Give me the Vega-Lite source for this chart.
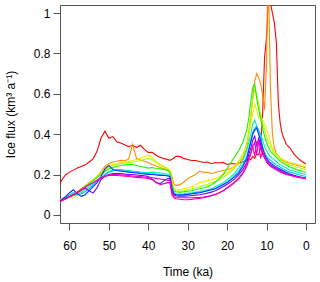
{
  "$schema": "https://vega.github.io/schema/vega-lite/v6.json",
  "width": 255,
  "height": 218,
  "autosize": "none",
  "padding": {"left": 60, "top": 5, "right": 5, "bottom": 59},
  "background": "white",
  "config": {
    "view": {"stroke": "#555", "strokeWidth": 1},
    "axis": {
      "labelFont": "Liberation Sans", "titleFont": "Liberation Sans",
      "labelFontSize": 12, "titleFontSize": 12,
      "labelColor": "#000", "titleColor": "#000", "titleFontWeight": "normal",
      "tickColor": "#555", "tickSize": 7, "domain": false, "grid": false,
      "labelFlush": false, "labelOverlap": false
    }
  },
  "data": {"values": [
    {"t":62.4,"r":0.155,"o":0.072,"y":0.075,"l":0.07,"g":0.07,"c":0.068,"a":0.07,"b":0.07,"p":0.068,"m":0.065,"k":0.065},
    {"t":62,"r":0.172,"o":0.076,"y":0.078,"l":0.074,"g":0.074,"c":0.072,"a":0.074,"b":0.075,"p":0.072,"m":0.07,"k":0.07},
    {"t":61,"r":0.198,"o":0.085,"y":0.082,"l":0.085,"g":0.085,"c":0.083,"a":0.088,"b":0.09,"p":0.08,"m":0.08,"k":0.08},
    {"t":60,"r":0.212,"o":0.093,"y":0.086,"l":0.095,"g":0.093,"c":0.09,"a":0.1,"b":0.11,"p":0.09,"m":0.09,"k":0.09},
    {"t":59,"r":0.222,"o":0.102,"y":0.083,"l":0.105,"g":0.1,"c":0.095,"a":0.11,"b":0.125,"p":0.1,"m":0.1,"k":0.1},
    {"t":58,"r":0.232,"o":0.115,"y":0.098,"l":0.115,"g":0.11,"c":0.1,"a":0.1,"b":0.105,"p":0.11,"m":0.112,"k":0.112},
    {"t":57,"r":0.24,"o":0.13,"y":0.118,"l":0.13,"g":0.125,"c":0.11,"a":0.105,"b":0.092,"p":0.122,"m":0.125,"k":0.125},
    {"t":56,"r":0.248,"o":0.145,"y":0.138,"l":0.145,"g":0.14,"c":0.125,"a":0.115,"b":0.1,"p":0.133,"m":0.137,"k":0.137},
    {"t":55,"r":0.262,"o":0.16,"y":0.155,"l":0.16,"g":0.155,"c":0.14,"a":0.13,"b":0.12,"p":0.12,"m":0.15,"k":0.15},
    {"t":54,"r":0.278,"o":0.175,"y":0.17,"l":0.175,"g":0.17,"c":0.155,"a":0.15,"b":0.14,"p":0.108,"m":0.16,"k":0.16},
    {"t":53,"r":0.315,"o":0.19,"y":0.19,"l":0.19,"g":0.185,"c":0.17,"a":0.165,"b":0.16,"p":0.135,"m":0.172,"k":0.172},
    {"t":52,"r":0.38,"o":0.215,"y":0.21,"l":0.205,"g":0.2,"c":0.185,"a":0.18,"b":0.19,"p":0.175,"m":0.183,"k":0.182},
    {"t":51,"r":0.415,"o":0.24,"y":0.23,"l":0.22,"g":0.215,"c":0.2,"a":0.2,"b":0.228,"p":0.19,"m":0.193,"k":0.19},
    {"t":50,"r":0.38,"o":0.255,"y":0.245,"l":0.235,"g":0.228,"c":0.215,"a":0.212,"b":0.245,"p":0.2,"m":0.2,"k":0.195},
    {"t":49,"r":0.388,"o":0.262,"y":0.25,"l":0.245,"g":0.235,"c":0.222,"a":0.218,"b":0.225,"p":0.205,"m":0.2,"k":0.196},
    {"t":48,"r":0.362,"o":0.266,"y":0.255,"l":0.25,"g":0.24,"c":0.225,"a":0.22,"b":0.22,"p":0.205,"m":0.2,"k":0.195},
    {"t":47,"r":0.356,"o":0.27,"y":0.258,"l":0.255,"g":0.245,"c":0.225,"a":0.218,"b":0.218,"p":0.205,"m":0.199,"k":0.194},
    {"t":46,"r":0.348,"o":0.268,"y":0.262,"l":0.258,"g":0.248,"c":0.222,"a":0.216,"b":0.215,"p":0.203,"m":0.197,"k":0.192},
    {"t":45,"r":0.338,"o":0.276,"y":0.265,"l":0.26,"g":0.25,"c":0.22,"a":0.214,"b":0.212,"p":0.2,"m":0.195,"k":0.19},
    {"t":44,"r":0.346,"o":0.35,"y":0.27,"l":0.262,"g":0.25,"c":0.218,"a":0.212,"b":0.21,"p":0.2,"m":0.193,"k":0.188},
    {"t":43,"r":0.334,"o":0.28,"y":0.275,"l":0.265,"g":0.245,"c":0.215,"a":0.21,"b":0.208,"p":0.198,"m":0.191,"k":0.186},
    {"t":42,"r":0.345,"o":0.272,"y":0.28,"l":0.27,"g":0.24,"c":0.212,"a":0.208,"b":0.205,"p":0.196,"m":0.19,"k":0.185},
    {"t":41,"r":0.325,"o":0.266,"y":0.29,"l":0.275,"g":0.236,"c":0.21,"a":0.206,"b":0.203,"p":0.194,"m":0.188,"k":0.183},
    {"t":40,"r":0.31,"o":0.26,"y":0.296,"l":0.28,"g":0.232,"c":0.21,"a":0.205,"b":0.2,"p":0.19,"m":0.186,"k":0.18},
    {"t":39,"r":0.31,"o":0.25,"y":0.285,"l":0.275,"g":0.235,"c":0.212,"a":0.204,"b":0.2,"p":0.178,"m":0.184,"k":0.175},
    {"t":38,"r":0.296,"o":0.242,"y":0.265,"l":0.26,"g":0.23,"c":0.21,"a":0.202,"b":0.198,"p":0.16,"m":0.181,"k":0.162},
    {"t":37,"r":0.285,"o":0.235,"y":0.25,"l":0.245,"g":0.228,"c":0.208,"a":0.2,"b":0.196,"p":0.155,"m":0.178,"k":0.15},
    {"t":36,"r":0.28,"o":0.228,"y":0.24,"l":0.235,"g":0.225,"c":0.205,"a":0.198,"b":0.195,"p":0.17,"m":0.175,"k":0.155},
    {"t":35,"r":0.274,"o":0.224,"y":0.23,"l":0.225,"g":0.22,"c":0.2,"a":0.195,"b":0.193,"p":0.18,"m":0.172,"k":0.16},
    {"t":34.5,"r":0.27,"o":0.218,"y":0.222,"l":0.216,"g":0.21,"c":0.195,"a":0.19,"b":0.19,"p":0.18,"m":0.17,"k":0.16},
    {"t":34,"r":0.276,"o":0.19,"y":0.17,"l":0.16,"g":0.15,"c":0.14,"a":0.135,"b":0.13,"p":0.12,"m":0.11,"k":0.1},
    {"t":33.5,"r":0.282,"o":0.152,"y":0.132,"l":0.125,"g":0.12,"c":0.11,"a":0.105,"b":0.105,"p":0.1,"m":0.09,"k":0.085},
    {"t":33,"r":0.29,"o":0.145,"y":0.126,"l":0.12,"g":0.115,"c":0.105,"a":0.1,"b":0.1,"p":0.095,"m":0.088,"k":0.08},
    {"t":32,"r":0.29,"o":0.15,"y":0.125,"l":0.118,"g":0.112,"c":0.103,"a":0.1,"b":0.098,"p":0.093,"m":0.086,"k":0.078},
    {"t":31,"r":0.28,"o":0.162,"y":0.13,"l":0.12,"g":0.115,"c":0.105,"a":0.1,"b":0.1,"p":0.093,"m":0.085,"k":0.075},
    {"t":30,"r":0.275,"o":0.18,"y":0.135,"l":0.125,"g":0.118,"c":0.108,"a":0.102,"b":0.102,"p":0.094,"m":0.085,"k":0.075},
    {"t":29,"r":0.27,"o":0.19,"y":0.14,"l":0.13,"g":0.12,"c":0.11,"a":0.105,"b":0.105,"p":0.096,"m":0.085,"k":0.077},
    {"t":28,"r":0.27,"o":0.2,"y":0.15,"l":0.135,"g":0.125,"c":0.113,"a":0.108,"b":0.108,"p":0.098,"m":0.086,"k":0.08},
    {"t":27,"r":0.265,"o":0.216,"y":0.16,"l":0.14,"g":0.13,"c":0.117,"a":0.112,"b":0.11,"p":0.1,"m":0.087,"k":0.082},
    {"t":26,"r":0.26,"o":0.212,"y":0.165,"l":0.145,"g":0.135,"c":0.12,"a":0.115,"b":0.115,"p":0.104,"m":0.089,"k":0.085},
    {"t":25,"r":0.262,"o":0.21,"y":0.17,"l":0.15,"g":0.14,"c":0.125,"a":0.12,"b":0.12,"p":0.108,"m":0.092,"k":0.09},
    {"t":24,"r":0.254,"o":0.205,"y":0.175,"l":0.16,"g":0.15,"c":0.13,"a":0.125,"b":0.125,"p":0.113,"m":0.096,"k":0.095},
    {"t":23,"r":0.26,"o":0.21,"y":0.18,"l":0.165,"g":0.162,"c":0.14,"a":0.132,"b":0.13,"p":0.12,"m":0.102,"k":0.1},
    {"t":22,"r":0.257,"o":0.215,"y":0.19,"l":0.175,"g":0.18,"c":0.15,"a":0.142,"b":0.14,"p":0.13,"m":0.11,"k":0.11},
    {"t":21,"r":0.26,"o":0.22,"y":0.2,"l":0.185,"g":0.2,"c":0.16,"a":0.152,"b":0.15,"p":0.14,"m":0.12,"k":0.12},
    {"t":20,"r":0.25,"o":0.225,"y":0.21,"l":0.2,"g":0.23,"c":0.175,"a":0.165,"b":0.16,"p":0.152,"m":0.132,"k":0.135},
    {"t":19,"r":0.255,"o":0.23,"y":0.225,"l":0.215,"g":0.26,"c":0.19,"a":0.18,"b":0.175,"p":0.165,"m":0.145,"k":0.15},
    {"t":18,"r":0.252,"o":0.24,"y":0.245,"l":0.235,"g":0.29,"c":0.21,"a":0.198,"b":0.19,"p":0.18,"m":0.162,"k":0.165},
    {"t":17,"r":0.258,"o":0.255,"y":0.27,"l":0.26,"g":0.32,"c":0.235,"a":0.22,"b":0.21,"p":0.2,"m":0.18,"k":0.185},
    {"t":16,"r":0.262,"o":0.28,"y":0.3,"l":0.295,"g":0.36,"c":0.27,"a":0.25,"b":0.24,"p":0.225,"m":0.205,"k":0.21},
    {"t":15,"r":0.27,"o":0.33,"y":0.35,"l":0.36,"g":0.42,"c":0.32,"a":0.29,"b":0.28,"p":0.26,"m":0.24,"k":0.25},
    {"t":14.5,"r":0.28,"o":0.4,"y":0.4,"l":0.42,"g":0.48,"c":0.36,"a":0.33,"b":0.32,"p":0.3,"m":0.27,"k":0.28},
    {"t":14,"r":0.272,"o":0.48,"y":0.45,"l":0.5,"g":0.56,"c":0.4,"a":0.37,"b":0.36,"p":0.33,"m":0.3,"k":0.31},
    {"t":13.5,"r":0.29,"o":0.58,"y":0.5,"l":0.57,"g":0.63,"c":0.45,"a":0.41,"b":0.4,"p":0.37,"m":0.34,"k":0.34},
    {"t":13,"r":0.28,"o":0.66,"y":0.55,"l":0.62,"g":0.65,"c":0.47,"a":0.43,"b":0.42,"p":0.39,"m":0.36,"k":0.29},
    {"t":12.5,"r":0.3,"o":0.7,"y":0.52,"l":0.6,"g":0.58,"c":0.44,"a":0.44,"b":0.43,"p":0.34,"m":0.3,"k":0.36},
    {"t":12,"r":0.3,"o":0.68,"y":0.48,"l":0.55,"g":0.52,"c":0.42,"a":0.42,"b":0.4,"p":0.38,"m":0.37,"k":0.35},
    {"t":11.5,"r":0.33,"o":0.65,"y":0.5,"l":0.5,"g":0.48,"c":0.4,"a":0.38,"b":0.37,"p":0.35,"m":0.33,"k":0.28},
    {"t":11,"r":0.5,"o":0.6,"y":0.47,"l":0.46,"g":0.43,"c":0.37,"a":0.34,"b":0.33,"p":0.31,"m":0.3,"k":0.32},
    {"t":10.5,"r":0.78,"o":0.52,"y":0.45,"l":0.42,"g":0.39,"c":0.34,"a":0.31,"b":0.3,"p":0.29,"m":0.28,"k":0.29},
    {"t":10,"r":0.88,"o":0.75,"y":0.42,"l":0.39,"g":0.36,"c":0.32,"a":0.29,"b":0.28,"p":0.27,"m":0.27,"k":0.26},
    {"t":9.75,"r":0.97,"o":1.1,"y":0.41,"l":0.37,"g":0.345,"c":0.31,"a":0.285,"b":0.275,"p":0.265,"m":0.26,"k":0.255},
    {"t":9.5,"r":1.1,"o":1.15,"y":0.4,"l":0.36,"g":0.335,"c":0.3,"a":0.28,"b":0.268,"p":0.258,"m":0.255,"k":0.25},
    {"t":9.25,"r":1.2,"o":0.9,"y":0.38,"l":0.35,"g":0.325,"c":0.295,"a":0.275,"b":0.262,"p":0.253,"m":0.25,"k":0.245},
    {"t":9,"r":1.05,"o":0.62,"y":0.36,"l":0.34,"g":0.315,"c":0.288,"a":0.27,"b":0.257,"p":0.248,"m":0.245,"k":0.24},
    {"t":8.5,"r":1.0,"o":0.4,"y":0.33,"l":0.32,"g":0.305,"c":0.28,"a":0.262,"b":0.25,"p":0.242,"m":0.238,"k":0.235},
    {"t":8,"r":0.95,"o":0.33,"y":0.31,"l":0.305,"g":0.295,"c":0.272,"a":0.255,"b":0.243,"p":0.236,"m":0.232,"k":0.228},
    {"t":7.5,"r":0.85,"o":0.305,"y":0.3,"l":0.295,"g":0.285,"c":0.265,"a":0.248,"b":0.237,"p":0.23,"m":0.226,"k":0.222},
    {"t":7,"r":0.55,"o":0.29,"y":0.29,"l":0.285,"g":0.275,"c":0.255,"a":0.242,"b":0.231,"p":0.225,"m":0.221,"k":0.217},
    {"t":6.5,"r":0.45,"o":0.28,"y":0.283,"l":0.275,"g":0.265,"c":0.248,"a":0.236,"b":0.226,"p":0.22,"m":0.216,"k":0.212},
    {"t":6,"r":0.4,"o":0.272,"y":0.276,"l":0.265,"g":0.258,"c":0.242,"a":0.23,"b":0.221,"p":0.215,"m":0.212,"k":0.208},
    {"t":5,"r":0.35,"o":0.262,"y":0.266,"l":0.255,"g":0.247,"c":0.232,"a":0.22,"b":0.211,"p":0.206,"m":0.204,"k":0.2},
    {"t":4,"r":0.33,"o":0.256,"y":0.26,"l":0.247,"g":0.237,"c":0.222,"a":0.212,"b":0.203,"p":0.199,"m":0.198,"k":0.195},
    {"t":3,"r":0.3,"o":0.25,"y":0.255,"l":0.24,"g":0.23,"c":0.216,"a":0.206,"b":0.196,"p":0.194,"m":0.192,"k":0.19},
    {"t":2,"r":0.28,"o":0.245,"y":0.25,"l":0.235,"g":0.222,"c":0.21,"a":0.2,"b":0.19,"p":0.189,"m":0.188,"k":0.186},
    {"t":1,"r":0.265,"o":0.24,"y":0.243,"l":0.23,"g":0.216,"c":0.205,"a":0.195,"b":0.185,"p":0.185,"m":0.185,"k":0.183},
    {"t":0,"r":0.252,"o":0.232,"y":0.237,"l":0.225,"g":0.21,"c":0.2,"a":0.19,"b":0.18,"p":0.181,"m":0.181,"k":0.18}
  ]},
  "transform": [
    {"fold": ["r","o","y","l","g","c","a","b","p","m","k"], "as": ["s","v"]}
  ],
  "mark": {"type": "line", "clip": true, "strokeWidth": 1.1, "interpolate": "linear"},
  "encoding": {
    "x": {
      "field": "t", "type": "quantitative",
      "scale": {"domain": [62.4, -2.3], "nice": false, "zero": false},
      "axis": {
        "values": [60, 50, 40, 30, 20, 10, 0],
        "labelPadding": 10,
        "title": "Time (ka)",
        "titleBaseline": "alphabetic",
        "titleX": 127.5, "titleY": 52, "titleAnchor": "middle"
      }
    },
    "y": {
      "field": "v", "type": "quantitative",
      "scale": {"domain": [-0.04, 1.04], "nice": false, "zero": false},
      "axis": {
        "values": [0, 0.2, 0.4, 0.6, 0.8, 1],
        "format": "~g",
        "labelPadding": 3,
        "title": "Ice flux (km³ a⁻¹)",
        "titleAngle": 270,
        "titleBaseline": "alphabetic",
        "titleX": -46, "titleY": 109, "titleAlign": "center"
      }
    },
    "color": {
      "field": "s", "type": "nominal", "legend": null,
      "scale": {
        "domain": ["r","o","y","l","g","c","a","b","p","m","k"],
        "range": ["#FF0000","#FF8C00","#F5E800","#AAFF00","#22EE00","#00F0B0","#00BFFF","#0033FF","#7700FF","#DD00FF","#FF0099"]
      }
    }
  }
}
